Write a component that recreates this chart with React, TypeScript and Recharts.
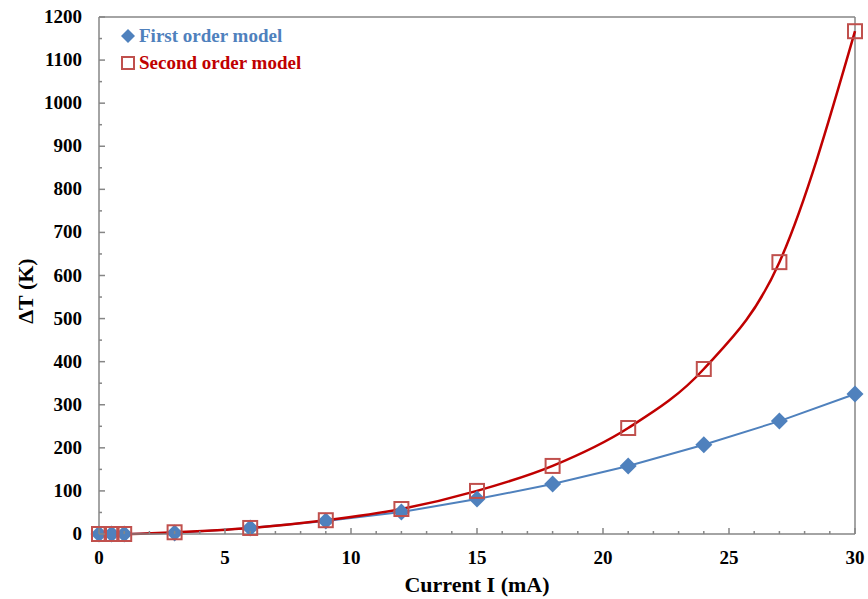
import React from "react"
import { LineChart, Line, XAxis, YAxis, ReferenceLine, Label } from "recharts"

// current I (mA)
const currents = [0, 0.5, 1, 3, 6, 9, 12, 15, 18, 21, 24, 27, 30]
// first order model, delta T (K)
const firstOrder = [0, 0, 0, 2.5, 14, 30, 51, 81, 116, 158, 207, 262, 325]
// second order model, delta T (K)
const secondOrder = [0, 0, 0, 4, 14, 32, 58, 100, 158, 246, 383, 631, 1167]

const xTicks = Array.from({ length: 31 }, (_, i) => i)
const yTicks = Array.from({ length: 25 }, (_, i) => i * 50)

const data = currents.map((c, i) => ({ current: c, first: firstOrder[i], second: secondOrder[i] }))

const FONT = '"Times New Roman", "Liberation Serif", serif'
const AXIS = "#868686"
const BLUE = "#4F81BD"
const RED_LINE = "#C00000"
const RED_MARK = "#C0504D"

const XTick = (props: any) => {
  const { x, y, payload } = props
  const major = payload.value % 5 === 0
  return (
    <g>
      <line x1={x} x2={x} y1={y} y2={y - (major ? 6 : 3)} stroke={AXIS} strokeWidth={1.5} />
      {major ? (
        <text x={x} y={y + 30} textAnchor="middle" fontFamily={FONT} fontWeight="bold" fontSize={19} fill="#000">
          {payload.value}
        </text>
      ) : null}
    </g>
  )
}

const YTick = (props: any) => {
  const { x, y, payload } = props
  const major = payload.value % 100 === 0
  return (
    <g>
      <line x1={x} x2={x + (major ? 6 : 3)} y1={y} y2={y} stroke={AXIS} strokeWidth={1.5} />
      {major ? (
        <text x={x - 17} y={y + 6} textAnchor="end" fontFamily={FONT} fontWeight="bold" fontSize={19} fill="#000">
          {payload.value}
        </text>
      ) : null}
    </g>
  )
}

const Diamond = (props: any) => {
  const { cx, cy, index } = props
  if (cx == null || cy == null) return <g key={index} />
  const r = 8.5
  return (
    <polygon
      key={index}
      points={`${cx},${cy - r} ${cx + r},${cy} ${cx},${cy + r} ${cx - r},${cy}`}
      fill={BLUE}
    />
  )
}

const Square = (props: any) => {
  const { cx, cy, index } = props
  if (cx == null || cy == null) return <g key={index} />
  const s = 14
  return (
    <rect key={index} x={cx - s / 2} y={cy - s / 2} width={s} height={s} fill="none" stroke={RED_MARK} strokeWidth={2} />
  )
}

export default function App() {
  return (
    <div style={{ position: "relative", width: 868, height: 599, background: "#fff" }}>
      <style>{"body{margin:0}"}</style>
      <LineChart width={868} height={599} data={data} margin={{ top: 17, right: 13, left: 0, bottom: 0 }}>
        <XAxis
          dataKey="current"
          type="number"
          domain={[0, 30]}
          ticks={xTicks}
          interval={0}
          tickSize={0}
          tickMargin={0}
          tick={<XTick />}
          height={65}
          axisLine={{ stroke: AXIS, strokeWidth: 1.5 }}
          tickLine={false}
        >
          <Label
            value="Current I (mA)"
            position="insideBottom"
            offset={7}
            style={{ fontFamily: FONT, fontWeight: "bold", fontSize: 22, fill: "#000" }}
          />
        </XAxis>
        <YAxis
          type="number"
          domain={[0, 1200]}
          ticks={yTicks}
          interval={0}
          tickSize={0}
          tickMargin={0}
          tick={<YTick />}
          width={99}
          axisLine={{ stroke: AXIS, strokeWidth: 1.5 }}
          tickLine={false}
        >
          <Label
            content={() => (
              <text
                x={33}
                y={291}
                transform="rotate(-90 33 291)"
                textAnchor="middle"
                fontFamily={FONT}
                fontWeight="bold"
                fontSize={22}
                fill="#000"
              >
                ΔT (K)
              </text>
            )}
          />
        </YAxis>
        <ReferenceLine y={1200} stroke={AXIS} strokeWidth={1.5} />
        <ReferenceLine x={30} stroke={AXIS} strokeWidth={1.5} />
        <Line
          dataKey="first"
          type="linear"
          stroke={BLUE}
          strokeWidth={2}
          dot={<Diamond />}
          activeDot={false}
          isAnimationActive={false}
        />
        <Line
          dataKey="second"
          type="monotone"
          stroke={RED_LINE}
          strokeWidth={2.5}
          dot={<Square />}
          activeDot={false}
          isAnimationActive={false}
        />
      </LineChart>
      <div style={{ position: "absolute", left: 119, top: 22, fontFamily: FONT, fontWeight: "bold", fontSize: 19, lineHeight: "27px" }}>
        <div style={{ display: "flex", alignItems: "center", color: BLUE }}>
          <svg width={18} height={18} style={{ marginRight: 2 }}>
            <polygon points="9,2 16,9 9,16 2,9" fill={BLUE} />
          </svg>
          First order model
        </div>
        <div style={{ display: "flex", alignItems: "center", color: RED_LINE }}>
          <svg width={18} height={18} style={{ marginRight: 2 }}>
            <rect x={3} y={3} width={12} height={12} fill="none" stroke={RED_MARK} strokeWidth={2} />
          </svg>
          Second order model
        </div>
      </div>
    </div>
  )
}
